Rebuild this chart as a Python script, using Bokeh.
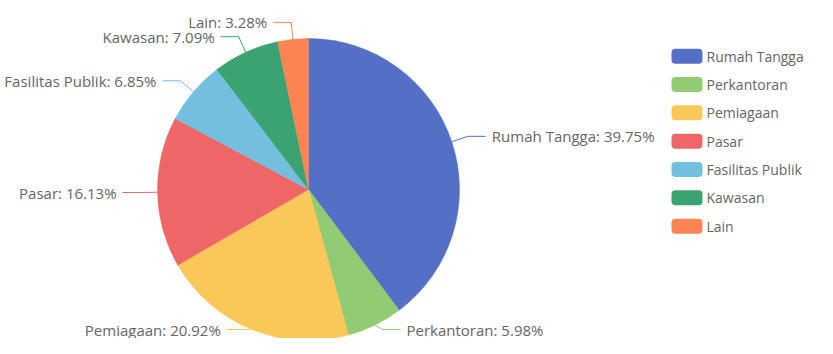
import math
from bokeh.plotting import figure
from bokeh.models import Range1d, ColumnDataSource
from bokeh.embed import file_html
from bokeh.resources import INLINE
from bokeh.core.properties import value

categories = ["Rumah Tangga", "Perkantoran", "Pemiagaan", "Pasar",
              "Fasilitas Publik", "Kawasan", "Lain"]
shares = [39.75, 5.98, 20.92, 16.13, 6.85, 7.09, 3.28]
colors = ["#5470c6", "#91cc75", "#fac858", "#ee6666", "#73c0de", "#3ba272", "#fc8452"]

W, H = 817, 338


def sy(y):
    return H - y


p = figure(width=W, height=H, output_backend="svg", toolbar_location=None,
           x_range=Range1d(0, W), y_range=Range1d(0, H), min_border=0)
p.axis.visible = False
p.grid.visible = False
p.outline_line_color = None
p.background_fill_color = "white"
p.border_fill_color = "white"

cx, cy, r = 308, sy(189), 151
total = sum(shares)

starts, ends, mids = [], [], []
cum = 0.0
for s in shares:
    a0 = math.pi / 2 - 2 * math.pi * cum / total
    cum += s
    a1 = math.pi / 2 - 2 * math.pi * cum / total
    starts.append(a1)
    ends.append(a0)
    mids.append((a0 + a1) / 2)

src = ColumnDataSource(dict(start=starts, end=ends, color=colors, cat=categories))
p.wedge(x=cx, y=cy, radius=r, start_angle="start", end_angle="end",
        fill_color="color", line_color="color", line_width=0.5, source=src)

L1, L2, GAP = 17, 18, 6
lxs, lys, tx, ty, ta, tt = [], [], [], [], [], []
for cat, s, m in zip(categories, shares, mids):
    c, sn = math.cos(m), math.sin(m)
    p1 = (cx + r * c, cy + r * sn)
    p2 = (cx + (r + L1) * c, cy + (r + L1) * sn)
    p2 = (p2[0], max(p2[1], sy(329)))
    right = c >= 0
    p3 = (p2[0] + (L2 if right else -L2), p2[1])
    lxs.append([p1[0], p2[0], p3[0]])
    lys.append([p1[1], p2[1], p3[1]])
    tx.append(p3[0] + (GAP if right else -GAP))
    ty.append(p3[1])
    ta.append("left" if right else "right")
    tt.append(f"{cat}: {s:.2f}%")

p.multi_line(xs=lxs, ys=lys, line_color=colors, line_width=1)
p.text(x=tx, y=ty, text=tt, text_align=ta, text_baseline="middle",
       text_font=value("Open Sans"), text_font_size="15px", text_color="#666666")

# legend
leg_y = [sy(55.7 + i * 28.33) for i in range(len(categories))]
p.rect(x=[686.5] * len(categories), y=leg_y, width=31, height=15,
       fill_color=colors, line_color=None, border_radius=4)
p.text(x=[706] * len(categories), y=leg_y, text=categories, text_align="left",
       text_baseline="middle", text_font=value("Open Sans"), text_font_size="14px",
       text_color="#666666")

open("out.html", "w").write(file_html(p, INLINE))
